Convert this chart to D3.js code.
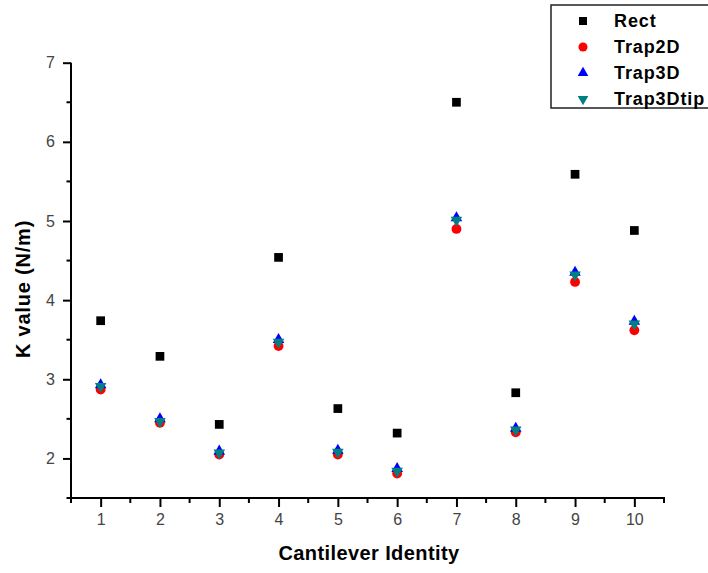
<!DOCTYPE html>
<html>
<head>
<meta charset="utf-8">
<script src="https://cdn.jsdelivr.net/npm/d3@7"></script>
<style>
  html, body { margin: 0; padding: 0; background: #fff; }
  svg { display: block; font-family: Arial, "Liberation Sans", sans-serif; }
</style>
</head>
<body>
<svg id="chart" width="708" height="573"></svg>
<script>
// K value per cantilever, four models.
const cantilevers = [1, 2, 3, 4, 5, 6, 7, 8, 9, 10];
const rect      = [3.74, 3.29, 2.43, 4.54, 2.63, 2.32, 6.50, 2.83, 5.59, 4.88];
const trap2D    = [2.87, 2.45, 2.05, 3.42, 2.05, 1.81, 4.90, 2.33, 4.23, 3.62];
const trap3D    = [2.93, 2.50, 2.09, 3.50, 2.10, 1.87, 5.04, 2.38, 4.35, 3.73];
const trap3Dtip = [2.91, 2.47, 2.07, 3.47, 2.08, 1.84, 5.01, 2.36, 4.32, 3.70];
const yTicks = [2, 3, 4, 5, 6, 7];

const series = [
  { name: 'Rect',      values: rect,      color: '#000000', shape: d3.symbolSquare,   size: 76, rot: 0 },
  { name: 'Trap2D',    values: trap2D,    color: '#ff0000', shape: d3.symbolCircle,   size: 76, rot: 0 },
  { name: 'Trap3D',    values: trap3D,    color: '#0000ff', shape: d3.symbolTriangle, size: 58, rot: 0 },
  { name: 'Trap3Dtip', values: trap3Dtip, color: '#008080', shape: d3.symbolTriangle, size: 58, rot: 180 },
];

const svg = d3.select('#chart');
const L = 71, R = 664, T = 62.7, B = 498;

const x = d3.scaleLinear().domain([0.5, 10.5]).range([L, R]);
const y = d3.scaleLinear().domain([1.5, 7]).range([B, T]);

// y axis
const yAxis = d3.axisLeft(y).tickValues(yTicks).tickSize(8).tickPadding(8).tickFormat(d3.format('d'));
const gy = svg.append('g').attr('transform', `translate(${L},0)`).call(yAxis);
gy.select('.domain').remove();
gy.selectAll('.tick line').attr('stroke', '#000').attr('stroke-width', 2);
gy.selectAll('.tick text').attr('font-size', 16).attr('fill', '#444');
svg.append('g').selectAll('line')
  .data(d3.range(1.5, 7, 1))
  .enter().append('line')
    .attr('x1', L - 4.5).attr('x2', L)
    .attr('y1', d => y(d)).attr('y2', d => y(d))
    .attr('stroke', '#000').attr('stroke-width', 2);

// x axis
const xAxis = d3.axisBottom(x).tickValues(cantilevers).tickSize(9).tickPadding(7).tickFormat(d3.format('d'));
const gx = svg.append('g').attr('transform', `translate(0,${B})`).call(xAxis);
gx.select('.domain').remove();
gx.selectAll('.tick line').attr('stroke', '#000').attr('stroke-width', 2);
gx.selectAll('.tick text').attr('font-size', 16).attr('fill', '#444');
svg.append('g').selectAll('line')
  .data(d3.range(0.5, 11, 1))
  .enter().append('line')
    .attr('x1', d => x(d)).attr('x2', d => x(d))
    .attr('y1', B).attr('y2', B + 5)
    .attr('stroke', '#000').attr('stroke-width', 2);

// axis lines
svg.append('line').attr('x1', L).attr('x2', L).attr('y1', T).attr('y2', B + 1)
  .attr('stroke', '#000').attr('stroke-width', 2);
svg.append('line').attr('x1', L - 1).attr('x2', R + 1).attr('y1', B).attr('y2', B)
  .attr('stroke', '#000').attr('stroke-width', 2);

// axis titles
svg.append('text')
  .attr('x', 369).attr('y', 560)
  .attr('text-anchor', 'middle')
  .attr('font-size', 20).attr('font-weight', 'bold').attr('letter-spacing', 0.4)
  .text('Cantilever Identity');
svg.append('text')
  .attr('transform', 'translate(30,289) rotate(-90)')
  .attr('text-anchor', 'middle')
  .attr('font-size', 20).attr('font-weight', 'bold').attr('letter-spacing', 0.8)
  .text('K value (N/m)');

// points
series.forEach(s => {
  svg.append('g').selectAll('path')
    .data(s.values)
    .enter().append('path')
      .attr('d', d3.symbol().type(s.shape).size(s.size))
      .attr('transform', (d, i) => `translate(${x(cantilevers[i])},${y(d)}) rotate(${s.rot})`)
      .attr('fill', s.color);
});

// legend
const lg = svg.append('g');
lg.append('rect')
  .attr('x', 551).attr('y', 5).attr('width', 170).attr('height', 103)
  .attr('fill', '#fff').attr('stroke', '#222').attr('stroke-width', 1.5);
const ly = d3.scalePoint().domain(series.map(s => s.name)).range([21, 99]);
series.forEach(s => {
  lg.append('path')
    .attr('d', d3.symbol().type(s.shape).size(s.size * 0.85))
    .attr('transform', `translate(583,${ly(s.name)}) rotate(${s.rot})`)
    .attr('fill', s.color);
  lg.append('text')
    .attr('x', 614).attr('y', ly(s.name))
    .attr('dy', '0.36em')
    .attr('font-size', 18).attr('font-weight', 'bold').attr('letter-spacing', 0.9)
    .text(s.name);
});
</script>
</body>
</html>
